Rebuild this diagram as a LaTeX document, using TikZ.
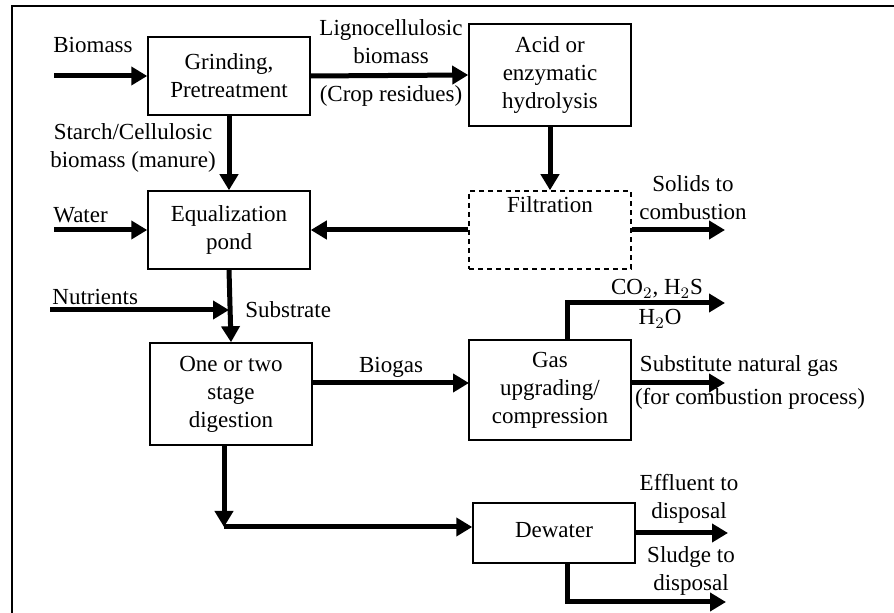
\documentclass[tikz,border=0pt]{standalone}
\usepackage{fontspec}
\setmainfont{Liberation Serif}
\usetikzlibrary{arrows.meta}

\begin{document}
\begin{tikzpicture}[x=0.5pt, y=-0.5pt,
  every node/.style={font=\fontsize{11.5}{14}\selectfont, align=center, inner sep=0pt},
  box/.style={draw, line width=0.75pt, minimum width=81pt},
  flow/.style={line width=2.5pt, -{Triangle[length=8pt,width=9pt]}}]
\useasboundingbox (0,0) rectangle (894,613);
\draw[line width=1pt] (11.5,613) -- (11.5,6.5) -- (894,6.5);
% process boxes
\node[box, minimum height=39pt] (grind) at (229,76) {Grinding,\\Pretreatment};
\node[box, minimum height=51pt] (acid) at (550,75) {Acid or\\enzymatic\\hydrolysis};
\node[box, minimum height=39pt] (equal) at (229,230) {Equalization\\pond};
\node[box, minimum height=39pt, dashed, dash pattern=on 2.5pt off 2pt,
  label={[anchor=north, yshift=-3pt]north:Filtration}] (filt) at (550,230) {};
\node[box, minimum height=51pt] (dig) at (231,394) {One or two\\stage\\digestion};
\node[box, minimum height=50pt] (gas) at (550,390) {Gas\\upgrading/\\compression};
\node[box, minimum height=30pt] (dew) at (554,533) {\raisebox{3pt}{Dewater}};
% free ends
\coordinate (bio) at (54,76);
\coordinate (water) at (54,230);
\coordinate (solids) at (725,230);
\coordinate (nut) at (50,310);
\coordinate (bg) at (469,383);
\coordinate (sng) at (725,383);
\coordinate (co2) at (725,303);
\coordinate (turn) at (224,527);
\coordinate (eff) at (728,533);
\coordinate (sludge) at (726,602);
% flows
\draw[flow] (bio) -- (grind.west);
\draw[flow] (grind.east) -- (acid.west);
\draw[flow] (grind.south) -- (equal.north);
\draw[flow] (water) -- (equal.west);
\draw[flow] (filt.west) -- (equal.east);
\draw[flow] (acid.south) -- (filt.north);
\draw[flow] (filt.east) -- (solids);
\draw[flow] (equal.south) -- (dig.north);
\draw[flow] (nut) -- (nut -| equal.south);
\draw[flow] (bg -| dig.east) -- (bg);
\draw[flow] (bg -| gas.east) -- (sng);
\draw[flow] ([xshift=8.5pt]gas.north) |- (co2);
\draw[flow] (dig.south -| turn) -- (turn);
\draw[flow] (turn) -- (turn -| dew.west);
\draw[flow] (dew.east) -- (eff);
\draw[flow] ([xshift=6.5pt]dew.south) |- (sludge);
% labels
\node[anchor=west] (lbio) at (53,45) {Biomass};
\node (llig) at (391,42) {Lignocellulosic\\biomass};
\node (lcrop) at (391,96) {(Crop residues)};
\node (lstarch) at (133,148) {Starch/Cellulosic\\biomass (manure)};
\node[anchor=west] (lwater) at (53,215) {Water};
\node (lsolids) at (693,198) {Solids to\\combustion};
\node[anchor=west] (lnut) at (52,297) {Nutrients};
\node[anchor=west] (lsub) at (245,310) {Substrate};
\node (lbiogas) at (391,367) {Biogas};
\node (lco2) at (657,289) {CO$_2$, H$_2$S};
\node (lh2o) at (660,319) {H$_2$O};
\node (lsng) at (739,366) {Substitute natural gas};
\node (lcomb) at (750,399) {(for combustion process)};
\node (leff) at (689,499) {Effluent to\\disposal};
\node (lsludge) at (691,571) {Sludge to\\disposal};
\end{tikzpicture}
\end{document}
